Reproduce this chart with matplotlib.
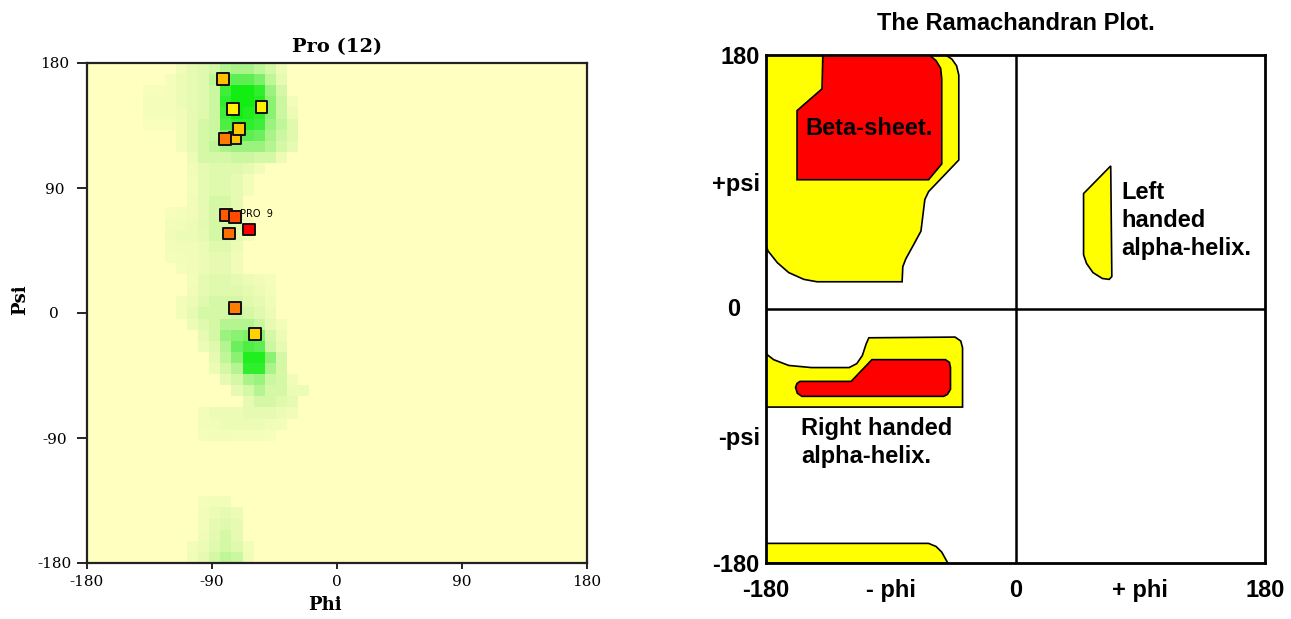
import numpy as np
import matplotlib.pyplot as plt
from matplotlib.colors import LinearSegmentedColormap

# ---------------- left panel: Pro (12) density + residues ----------------
# 45 x 45 grid of 8 degree cells, row 0 = psi 180 at the top, col 0 = phi -180
# each row: (first column, green intensities 0..1)
green_rows = {
    0: (8, [0.12, 0.2, 0.25, 0.3, 0.45, 0.5, 0.5, 0.4, 0.3, 0.15]),
    1: (7, [0.08, 0.15, 0.2, 0.25, 0.4, 0.7, 0.75, 0.75, 0.65, 0.4, 0.2]),
    2: (5, [0.06, 0.06, 0.08, 0.15, 0.2, 0.25, 0.35, 0.85, 1.0, 1.0, 0.9, 0.55, 0.3]),
    3: (5, [0.08, 0.08, 0.08, 0.15, 0.2, 0.25, 0.35, 0.9, 1.0, 1.0, 0.95, 0.6, 0.35, 0.1]),
    4: (5, [0.08, 0.08, 0.08, 0.12, 0.2, 0.25, 0.35, 0.85, 1.0, 0.95, 0.9, 0.6, 0.35, 0.15]),
    5: (5, [0.05, 0.05, 0.05, 0.1, 0.2, 0.3, 0.35, 0.8, 0.9, 0.9, 0.85, 0.55, 0.4, 0.25]),
    6: (8, [0.1, 0.2, 0.3, 0.35, 0.65, 0.75, 0.75, 0.7, 0.5, 0.35, 0.25]),
    7: (8, [0.1, 0.2, 0.3, 0.4, 0.5, 0.55, 0.55, 0.55, 0.45, 0.3, 0.2]),
    8: (9, [0.15, 0.3, 0.3, 0.3, 0.35, 0.35, 0.3, 0.3, 0.15]),
    9: (9, [0.12, 0.2, 0.25, 0.25, 0.25, 0.2, 0.12]),
    10: (9, [0.1, 0.2, 0.25, 0.25, 0.2, 0.1]),
    11: (9, [0.1, 0.2, 0.25, 0.25, 0.2, 0.1]),
    12: (9, [0.12, 0.2, 0.3, 0.3, 0.2]),
    13: (7, [0.06, 0.08, 0.12, 0.2, 0.3, 0.25, 0.2]),
    14: (7, [0.1, 0.12, 0.15, 0.22, 0.3, 0.3, 0.25, 0.1]),
    15: (7, [0.12, 0.15, 0.15, 0.2, 0.3, 0.3, 0.2, 0.1]),
    16: (7, [0.1, 0.12, 0.12, 0.15, 0.25, 0.25, 0.15]),
    17: (7, [0.08, 0.1, 0.12, 0.15, 0.2, 0.2, 0.12]),
    18: (8, [0.08, 0.12, 0.15, 0.2, 0.2, 0.12]),
    19: (9, [0.1, 0.2, 0.25, 0.25, 0.2, 0.15, 0.12, 0.08]),
    20: (9, [0.12, 0.2, 0.25, 0.25, 0.25, 0.2, 0.15, 0.1]),
    21: (8, [0.1, 0.15, 0.25, 0.3, 0.3, 0.3, 0.25, 0.2, 0.12]),
    22: (8, [0.1, 0.2, 0.3, 0.3, 0.3, 0.35, 0.3, 0.25, 0.15]),
    23: (9, [0.15, 0.25, 0.3, 0.45, 0.45, 0.45, 0.35, 0.2, 0.1]),
    24: (10, [0.2, 0.3, 0.55, 0.6, 0.65, 0.6, 0.3, 0.15]),
    25: (10, [0.15, 0.25, 0.45, 0.7, 0.8, 0.75, 0.35, 0.2]),
    26: (11, [0.2, 0.4, 0.6, 0.95, 0.95, 0.6, 0.3]),
    27: (11, [0.15, 0.3, 0.45, 0.9, 0.9, 0.5, 0.3]),
    28: (12, [0.2, 0.3, 0.5, 0.55, 0.35, 0.3, 0.12]),
    29: (13, [0.2, 0.3, 0.45, 0.3, 0.3, 0.15, 0.15]),
    30: (14, [0.2, 0.3, 0.3, 0.25, 0.2]),
    31: (10, [0.1, 0.15, 0.15, 0.15, 0.2, 0.2, 0.2, 0.15, 0.12]),
    32: (10, [0.1, 0.12, 0.15, 0.15, 0.15, 0.15, 0.12, 0.1]),
    33: (10, [0.08, 0.1, 0.1, 0.08, 0.08, 0.08, 0.06]),
    39: (10, [0.08, 0.1, 0.1]),
    40: (10, [0.1, 0.15, 0.2, 0.15]),
    41: (10, [0.1, 0.2, 0.25, 0.2]),
    42: (10, [0.12, 0.22, 0.3, 0.2]),
    43: (9, [0.1, 0.15, 0.25, 0.3, 0.25, 0.1]),
    44: (9, [0.12, 0.2, 0.3, 0.4, 0.35, 0.12]),
}

# the 12 proline residues (drawing order: later ones on top)
pro_phi = [-82, -74.6, -54.4, -73.7, -70.4, -80.6, -80, -73.2, -63.3, -77.9, -73.2, -58.8]
pro_psi = [168.6, 146.9, 148.2, 126, 132.5, 125.2, 70.4, 69.1, 60.1, 57.2, 3.8, -14.9]
pro_col = ['#FFC000', '#FFF200', '#FFF200', '#FFC400', '#FFC400', '#FF7A00',
           '#FF5A00', '#FF4A00', '#FF0000', '#FF6E00', '#FF7E00', '#FFD200']
pro_tag = 'PRO  9'

# ---------------- right panel: schematic Ramachandran regions ----------------
beta_yellow = [(-180, 180), (-50.4, 180), (-45.8, 177), (-42.5, 172.3), (-40.9, 165.8),
               (-40.9, 105.6), (-62.7, 83.2), (-65.4, 77.6), (-66.8, 66.4), (-68.2, 55.2),
               (-73.6, 45.4), (-79.1, 35.6), (-81.3, 30), (-81.8, 19.3), (-143.2, 19.3),
               (-152.7, 21), (-163.6, 25.8), (-171.8, 32.8), (-178.6, 41.2), (-180, 45.4)]
beta_red = [(-139, 180), (-62.2, 180), (-57.3, 176), (-54, 170.6), (-53.2, 163),
            (-53.2, 102.8), (-62.7, 91.6), (-157.6, 91.6), (-157.6, 140.6), (-139.6, 156)]
left_yellow = [(68.7, 101.4), (69.5, 23), (67.6, 21), (62.7, 21.6), (55.9, 25.8),
               (51.3, 32.2), (49.1, 38.4), (49.1, 81.8)]
right_yellow = [(-180, -31.7), (-174.5, -35.9), (-163.6, -40), (-147.3, -41.5), (-120, -41.5),
                (-114.5, -38.7), (-110.5, -33), (-107.7, -24.6), (-105.8, -20.4),
                (-43.6, -19.9), (-39.5, -22.7), (-38.2, -27.5), (-38.2, -69.5), (-180, -69.5)]
right_red = [(-155.5, -51.3), (-118.6, -51.3), (-103.6, -35.9), (-50.5, -35.9), (-47.7, -37.8),
             (-46.9, -41.5), (-46.9, -56.9), (-49.1, -60.5), (-51.8, -61.9), (-154.1, -61.9),
             (-157.4, -59.7), (-158.7, -55.5), (-157.6, -52.7)]
bottom_yellow = [(-180, -166.1), (-62.7, -166.1), (-57.3, -168.3), (-53.2, -172.3),
                 (-49.1, -179.6), (-49.1, -180), (-180, -180)]

ticks = [-180, -90, 0, 90, 180]
left_ticklabels = ['-180', '-90', '0', '90', '180']
phi_labels = ['-180', '- phi', '0', '+ phi', '180']
psi_labels = ['-180', '-psi', '', '+psi', '180']

W, H = 1291, 619
fig = plt.figure(figsize=(W / 100, H / 100), dpi=100)

# ---- left
serif = 'DejaVu Serif'
ax1 = fig.add_axes([87 / W, 1 - 563 / H, 500 / W, 500 / H])
grid = np.zeros((45, 45))
for r, (c0, vals) in green_rows.items():
    grid[r, c0:c0 + len(vals)] = vals
cmap = LinearSegmentedColormap.from_list(
    'pro', [(0, '#FFFFC0'), (0.25, '#E0FAAE'), (0.5, '#AAF48A'),
            (0.75, '#5EEE52'), (1, '#12EE12')])
ax1.imshow(grid, extent=[-180, 180, -180, 180], origin='upper', cmap=cmap,
           vmin=0, vmax=1, interpolation='nearest', aspect='auto')
ax1.text(-69.5, 71.3, pro_tag, fontsize=7, family='DejaVu Sans', va='center', zorder=3)
ax1.scatter(pro_phi, pro_psi, s=72, marker='s', c=pro_col, edgecolors='#111111',
            linewidths=1.4, zorder=4)
ax1.set_xlim(-180, 180)
ax1.set_ylim(-180, 180)
ax1.set_xticks(ticks)
ax1.set_xticklabels(left_ticklabels, family=serif, fontsize=11)
ax1.set_yticks(ticks)
ax1.set_yticklabels(left_ticklabels, family=serif, fontsize=11)
ax1.tick_params(axis='x', length=4, width=1.2, pad=5)
ax1.tick_params(axis='y', length=7, width=1.2, pad=16.5)
for lbl in ax1.get_yticklabels():
    lbl.set_ha('center')
for sp in ax1.spines.values():
    sp.set_linewidth(1.6)
    sp.set_color('#222222')
ax1.set_title('Pro (12)', family=serif, fontsize=14, fontweight='bold', pad=8)
ax1.text(0.476, -0.084, 'Phi', transform=ax1.transAxes, family=serif, fontsize=13,
         fontweight='bold', ha='center', va='center')
ax1.text(-0.134, 0.526, 'Psi', transform=ax1.transAxes, family=serif, fontsize=13,
         fontweight='bold', ha='center', va='center', rotation=90)

# ---- right
sans = 'Liberation Sans'
ax2 = fig.add_axes([766 / W, 1 - 563 / H, 499 / W, 508 / H])
for shape, col in [(beta_yellow, '#FFFF00'), (beta_red, '#FF0000'),
                   (left_yellow, '#FFFF00'), (right_yellow, '#FFFF00'),
                   (right_red, '#FF0000'), (bottom_yellow, '#FFFF00')]:
    xs, ys = zip(*shape)
    ax2.fill(xs, ys, facecolor=col, edgecolor='black', linewidth=1.2, zorder=2)
ax2.axhline(0, color='black', linewidth=1.8, zorder=3)
ax2.axvline(0, color='black', linewidth=1.8, zorder=3)
ax2.set_xlim(-180, 180)
ax2.set_ylim(-180, 180)
ax2.set_xticks(ticks)
ax2.set_xticklabels(phi_labels, family=sans, fontsize=17, fontweight='bold')
ax2.set_yticks(ticks)
ax2.set_yticklabels(psi_labels, family=sans, fontsize=17, fontweight='bold')
ax2.tick_params(axis='x', length=0, pad=11.5)
ax2.tick_params(axis='y', length=0, pad=4.5)
ax2.text(-0.064, 0.5, '0', transform=ax2.transAxes, family=sans, fontsize=17,
         fontweight='bold', ha='center', va='center')
for sp in ax2.spines.values():
    sp.set_linewidth(2)
    sp.set_color('black')
    sp.set_zorder(4)

ax2.text(0.5, 1.062, 'The Ramachandran Plot.', transform=ax2.transAxes, family=sans,
         fontsize=17, fontweight='bold', ha='center', va='center')
ax2.text(-151.4, 128, 'Beta-sheet.', family=sans, fontsize=17, fontweight='bold',
         va='center', zorder=5)
ax2.text(76.4, 63, 'Left\nhanded\nalpha-helix.', family=sans, fontsize=17,
         fontweight='bold', va='center', linespacing=1.28, zorder=5)
ax2.text(-154.9, -94.4, 'Right handed\nalpha-helix.', family=sans, fontsize=17,
         fontweight='bold', va='center', linespacing=1.28, zorder=5)

fig.savefig('out.png', dpi=100)
